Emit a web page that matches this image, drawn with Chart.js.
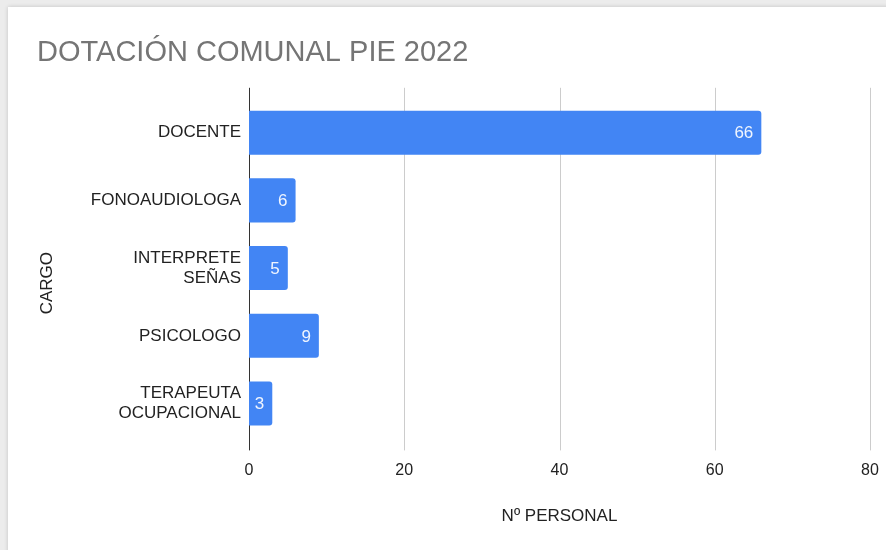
<!DOCTYPE html>
<html>
<head>
<meta charset="utf-8">
<script src="https://cdn.jsdelivr.net/npm/chart.js@4/dist/chart.umd.min.js"></script>
<style>
  html, body { margin: 0; padding: 0; }
  body { width: 886px; height: 550px; background: #ececec; position: relative; overflow: hidden; }
  .card { position: absolute; left: 8px; top: 7px; width: 890px; height: 560px; background: #fff; box-shadow: 0 0 4px rgba(0,0,0,0.18); }
  #wrap { position: absolute; left: 0; top: 0; width: 886px; height: 550px; }
</style>
</head>
<body>
<div class="card"></div>
<div id="wrap"><canvas id="chart" width="886" height="550"></canvas></div>
<script>
// Data
const categories = ['DOCENTE', 'FONOAUDIOLOGA', ['INTERPRETE', 'SEÑAS'], 'PSICOLOGO', ['TERAPEUTA', 'OCUPACIONAL']];
const personal = [66, 6, 5, 9, 3];
const xTicks = [0, 20, 40, 60, 80];

const FONT = "'Liberation Sans', Arial, sans-serif";

// vertical grid lines, a little longer than the plot area
const gridPlugin = {
    id: 'gridLines',
    beforeDatasetsDraw(chart) {
        const ctx = chart.ctx;
        const area = chart.chartArea;
        const x = chart.scales.x;
        ctx.save();
        x.ticks.forEach(t => {
            const px = Math.round(x.getPixelForValue(t.value)) + 0.5;
            ctx.beginPath();
            ctx.strokeStyle = t.value === 0 ? '#333333' : '#cccccc';
            ctx.lineWidth = 1;
            ctx.moveTo(px, area.top - 11);
            ctx.lineTo(px, area.bottom + 13);
            ctx.stroke();
        });
        ctx.restore();
    }
};

// value labels inside bar ends + the vertical axis title
const labelPlugin = {
    id: 'barLabels',
    afterDatasetsDraw(chart) {
        const ctx = chart.ctx;
        const meta = chart.getDatasetMeta(0);
        const area = chart.chartArea;
        ctx.save();
        ctx.font = '17px ' + FONT;
        ctx.fillStyle = 'rgba(255,255,255,0.92)';
        ctx.textAlign = 'right';
        ctx.textBaseline = 'middle';
        meta.data.forEach((bar, i) => {
            ctx.fillText(String(personal[i]), bar.x - 8, bar.y + 1);
        });
        // CARGO sits a bit below the middle of the plot in the original
        ctx.translate(chart.scales.y.left + 10, (area.top + area.bottom) / 2 + 15);
        ctx.rotate(-Math.PI / 2);
        ctx.textAlign = 'center';
        ctx.fillStyle = '#222';
        ctx.fillText('CARGO', 0, 0);
        ctx.restore();
    }
};

new Chart(document.getElementById('chart'), {
    type: 'bar',
    data: {
        labels: categories,
        datasets: [{
            data: personal,
            backgroundColor: '#4285f4',
            borderRadius: 3,
            borderSkipped: 'start',
            barPercentage: 0.65,
            categoryPercentage: 1
        }]
    },
    options: {
        indexAxis: 'y',
        responsive: false,
        animation: false,
        layout: { padding: { left: 37, right: 1, top: 0, bottom: 23 } },
        plugins: {
            legend: { display: false },
            tooltip: { enabled: false },
            title: {
                display: true,
                text: 'DOTACIÓN COMUNAL PIE 2022',
                align: 'start',
                color: '#757575',
                font: { family: FONT, size: 29, weight: 'normal' },
                padding: { top: 36, bottom: 28 }
            }
        },
        scales: {
            x: {
                min: 0,
                max: 80,
                afterBuildTicks(scale) {
                    scale.ticks = xTicks.map(v => ({ value: v }));
                },
                afterFit(scale) {
                    // keep only the room the "80" label really needs
                    scale.paddingRight = 16;
                    scale.paddingLeft = 0;
                },
                grid: { display: false, drawTicks: false },
                border: { display: false },
                ticks: {
                    color: '#222',
                    padding: 24,
                    font: { family: FONT, size: 16 }
                },
                title: {
                    display: true,
                    text: 'Nº PERSONAL',
                    color: '#222',
                    font: { family: FONT, size: 17 },
                    padding: { top: 2, bottom: 0 }
                }
            },
            y: {
                afterFit(scale) { scale.width = 212; },
                grid: { display: false, drawTicks: false },
                border: { display: false },
                ticks: {
                    color: '#222',
                    padding: 8,
                    font: { family: FONT, size: 17 }
                },
                title: { display: false }
            }
        }
    },
    plugins: [gridPlugin, labelPlugin]
});
</script>
</body>
</html>
